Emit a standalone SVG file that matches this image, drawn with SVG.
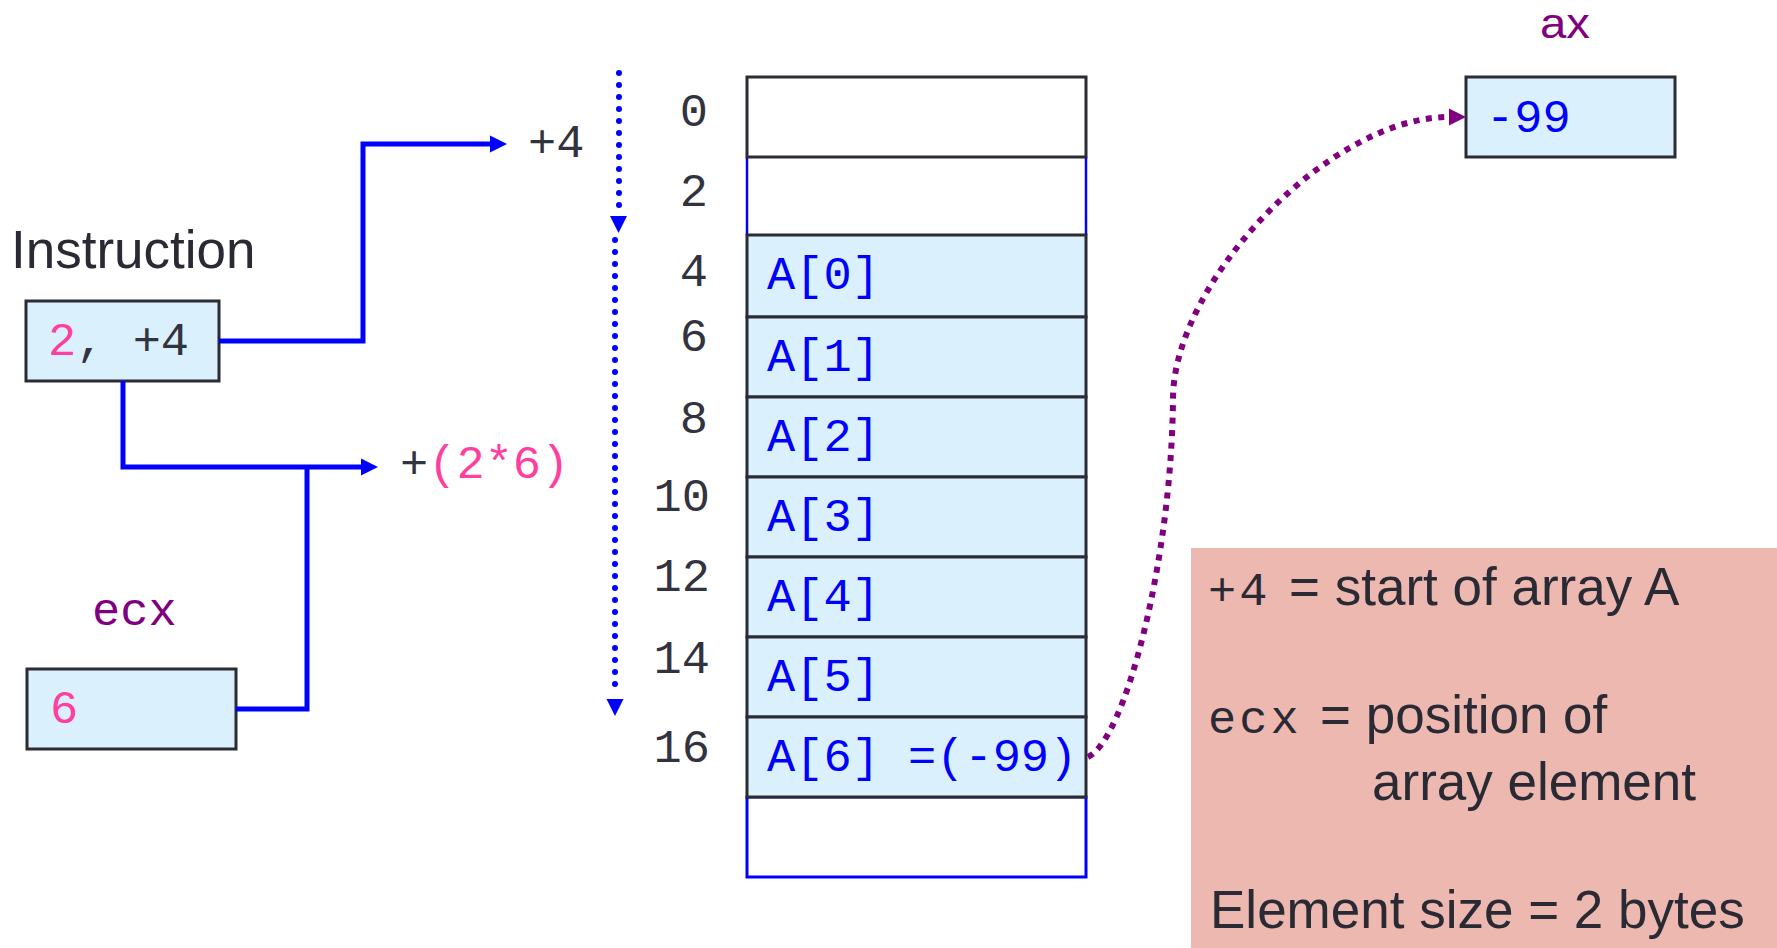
<svg xmlns="http://www.w3.org/2000/svg" width="1777" height="948" viewBox="0 0 1777 948">
<style>
.mono{font-family:"Liberation Mono","Courier New",monospace;font-size:47px}
.sans{font-family:"Liberation Sans",Arial,sans-serif}
.box{fill:#dbf0fd;stroke:#2b2b33;stroke-width:3}
.white{fill:#ffffff;stroke:#2b2b33;stroke-width:3}
.gray{fill:#333340}
.pink{fill:#ff3f9f}
.blue{fill:#0000ff}
.purple{fill:#800080}
.legend{fill:#2a2a35;font-size:53px}
.conn{fill:none;stroke:#0000ff;stroke-width:5;stroke-linejoin:miter}
.dots{fill:none;stroke:#0000ff;stroke-width:6;stroke-linecap:round;stroke-dasharray:0 12}
.pdots{fill:none;stroke:#800080;stroke-width:6;stroke-dasharray:6 6.5}
</style>
<defs>
<marker id="arrR" markerUnits="userSpaceOnUse" markerWidth="18" markerHeight="18" refX="0" refY="8.5" orient="auto" overflow="visible">
<path d="M0,0 L17,8.5 L0,17 Z" fill="#0000ff"/>
</marker>
<marker id="arrP" markerUnits="userSpaceOnUse" markerWidth="18" markerHeight="18" refX="0" refY="8.5" orient="auto" overflow="visible">
<path d="M0,0 L17,8.5 L0,17 Z" fill="#800080"/>
</marker>
</defs>
<rect width="1777" height="948" fill="#ffffff"/>

<g id="instruction">
<text x="11" y="268" class="sans" font-size="53" fill="#2a2a35">Instruction</text>
<rect x="26" y="301" width="193" height="80" class="box"/>
<text x="48" y="355" class="mono"><tspan class="pink">2</tspan><tspan class="gray">, +4</tspan></text>
</g>

<g id="ecx">
<text x="92" y="625" class="mono purple">ecx</text>
<rect x="27" y="669" width="209" height="80" class="box"/>
<text x="50" y="723" class="mono pink">6</text>
</g>

<g id="labels">
<text x="528" y="157" class="mono gray">+4</text>
<text x="400" y="478" class="mono"><tspan class="gray">+</tspan><tspan class="pink">(2*6)</tspan></text>
</g>

<g id="memory">
<g class="mono gray" text-anchor="end">
<text x="708" y="126">0</text>
<text x="708" y="206">2</text>
<text x="708" y="286">4</text>
<text x="708" y="351">6</text>
<text x="708" y="433">8</text>
<text x="710" y="511">10</text>
<text x="710" y="591">12</text>
<text x="710" y="673">14</text>
<text x="710" y="762">16</text>
</g>
<rect x="747" y="157" width="339" height="78" fill="#ffffff" stroke="none"/>
<line x1="747" y1="157" x2="747" y2="235" stroke="#0000ff" stroke-width="2.5"/>
<line x1="1086" y1="157" x2="1086" y2="235" stroke="#0000ff" stroke-width="2.5"/>
<rect x="747" y="797" width="339" height="80" fill="#ffffff" stroke="#0000ff" stroke-width="3"/>
<rect x="747" y="77" width="339" height="80" class="white"/>
<rect x="747" y="235" width="339" height="82" class="box"/>
<rect x="747" y="317" width="339" height="80" class="box"/>
<rect x="747" y="397" width="339" height="80" class="box"/>
<rect x="747" y="477" width="339" height="80" class="box"/>
<rect x="747" y="557" width="339" height="80" class="box"/>
<rect x="747" y="637" width="339" height="80" class="box"/>
<rect x="747" y="717" width="339" height="80" class="box"/>
<g class="mono blue">
<text x="767" y="289">A[0]</text>
<text x="767" y="371">A[1]</text>
<text x="767" y="451">A[2]</text>
<text x="767" y="531">A[3]</text>
<text x="767" y="611">A[4]</text>
<text x="767" y="691">A[5]</text>
<text x="767" y="771">A[6] =(-99)</text>
</g>
</g>

<g id="ax">
<text x="1565" y="38" class="sans purple" font-size="42" text-anchor="middle" textLength="50" lengthAdjust="spacingAndGlyphs">ax</text>
<rect x="1466" y="77" width="209" height="80" class="box"/>
<text x="1486" y="132" class="mono blue">-99</text>
</g>

<g id="legend">
<rect x="1191" y="548" width="586" height="400" fill="#ecb8b0"/>
<text x="1208" y="605" class="legend"><tspan class="mono" font-size="53" letter-spacing="3">+4</tspan><tspan x="1289" class="sans">= start of array A</tspan></text>
<text x="1208" y="733" class="legend"><tspan class="mono" font-size="53" letter-spacing="3">ecx</tspan><tspan x="1320" class="sans">= position of</tspan></text>
<text x="1372" y="800" class="sans legend">array element</text>
<text x="1210" y="928" class="sans legend">Element size = 2 bytes</text>
</g>

<g id="connectors">
<path class="conn" d="M219,341 H363 V144 H490" marker-end="url(#arrR)"/>
<path class="conn" d="M123,381 V467 H361" marker-end="url(#arrR)"/>
<path class="conn" d="M236,709 H307 V467"/>
<path class="dots" d="M619,73 V210"/>
<path d="M610,216 L627,216 L618.5,233 Z" fill="#0000ff"/>
<path class="dots" d="M615,240 V694"/>
<path d="M606.5,699 L623.5,699 L615,716 Z" fill="#0000ff"/>
<path class="pdots" d="M1088,757 C1125,740 1172,560 1173,397 C1175,280 1330,117 1449,117" marker-end="url(#arrP)"/>
</g>
</svg>
